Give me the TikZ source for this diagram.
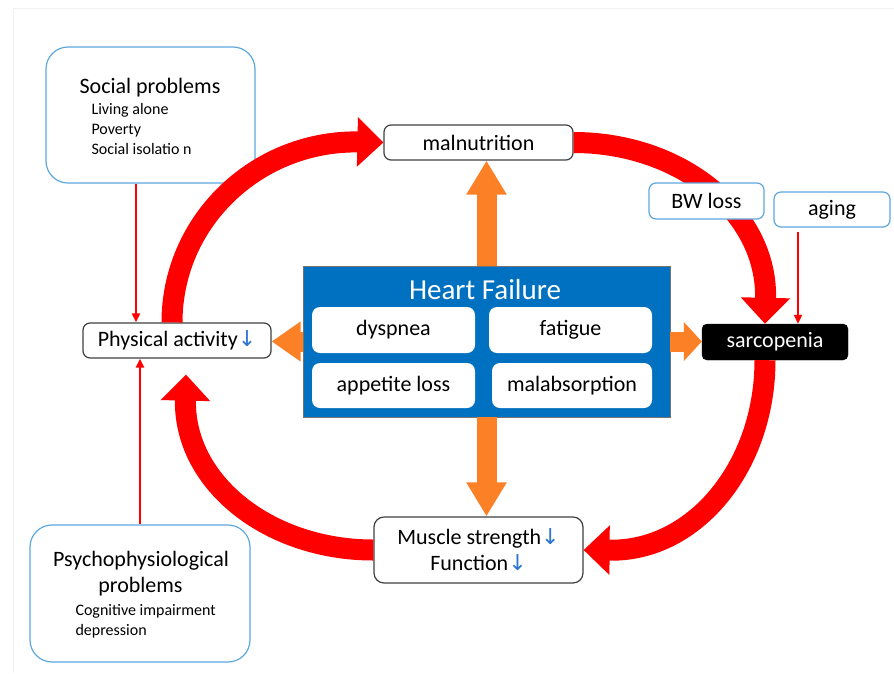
\documentclass[tikz,border=0pt]{standalone}
\usepackage{fontspec}
\setmainfont{Carlito}
\newfontfamily\arrowfont{DejaVu Sans}
\usetikzlibrary{arrows.meta,positioning}

\definecolor{hfred}{RGB}{255,0,0}
\definecolor{hforange}{RGB}{252,128,38}
\definecolor{hfblue}{RGB}{0,112,192}
\definecolor{softblue}{RGB}{93,168,222}
\definecolor{downblue}{RGB}{46,117,210}
\definecolor{darkframe}{RGB}{64,64,64}

\newcommand{\hfsize}{\fontsize{29}{34}\selectfont}
\newcommand{\boxsize}{\fontsize{22}{26}\selectfont}
\newcommand{\listsize}{\fontsize{16}{20}\selectfont}
\newcommand{\decrease}{{\arrowfont\color{downblue}↓}}

\begin{document}
\begin{tikzpicture}[x=1pt, y=1pt,
	softbox/.style={draw=softblue, line width=1.2pt, rounded corners=22pt, fill=white},
	tagbox/.style={draw=softblue, line width=1.2pt, rounded corners=7pt, fill=white, font=\boxsize},
	plainbox/.style={draw=darkframe, line width=1.2pt, rounded corners=7pt, fill=white, font=\boxsize},
	innerbox/.style={fill=white, rounded corners=8pt, font=\boxsize},
	bigarrow/.style={draw=hfred, line width=21pt, -{Triangle[length=26pt,width=48pt]}},
	thinarrow/.style={draw=hfred, line width=2pt, -{Triangle[length=9pt,width=8pt]}},
	orangearrow/.style={draw=hforange, line width=20pt, -{Triangle[length=34pt,width=38pt]}}]
	\useasboundingbox (0,0) rectangle (894,-673);
	\draw[black!5] (13,-673) -- (13,-8) -- (894,-8);
	
	% boxes round the loop
	\node[plainbox, minimum width=189pt, minimum height=35pt] (malnut) at (478.5,-142.5) {malnutrition};
	\node[plainbox, minimum width=188pt, minimum height=35pt] (physact) at (177,-340.5) {Physical activity\decrease};
	\node[plainbox, rounded corners=10pt, align=center, minimum width=209pt, minimum height=66pt] (muscle) at (478.5,-550) {Muscle strength\decrease\\Function\decrease};
	\node[draw=black, fill=black, text=white, rounded corners=5pt, font=\boxsize, minimum width=146pt, minimum height=36pt] (sarco) at (775,-342) {sarcopenia};
	\node[tagbox, minimum width=116pt, minimum height=35pt] (aging) at (832,-209.5) {aging};
	
	% heart failure
	\node[draw=black!55, fill=hfblue, minimum width=367pt, minimum height=151pt] (hf) at (486.5,-341.5) {};
	\node[font=\hfsize, text=white, anchor=base] (hftitle) at (485,-299) {Heart Failure};
	\node[innerbox, minimum width=163pt, minimum height=46pt] (dyspnea) at (393.5,-330) {dyspnea};
	\node[innerbox, minimum width=163pt, minimum height=46pt] (fatigue) at (570.5,-330) {fatigue};
	\node[innerbox, minimum width=163pt, minimum height=45pt] (appetite) at (393.5,-385.5) {appetite loss};
	\node[innerbox, minimum width=160pt, minimum height=45pt] (malabs) at (572,-385.5) {malabsorption};
	
	% social problems
	\node[softbox, minimum width=209pt, minimum height=136pt] (social) at (150.5,-115) {};
	\node[font=\boxsize, anchor=base] (socialtitle) at (150,-93) {Social problems};
	\foreach \entry [count=\i] in {Living alone, Poverty, Social isolatio n}
		\node[font=\listsize, anchor=base west] (social-\i) at (88,-94-20*\i) {\entry};
	
	% psychophysiological problems
	\node[softbox, minimum width=220pt, minimum height=137pt] (psycho) at (140,-593.5) {};
	\node[font=\boxsize, anchor=base] (psychotitle) at (141,-566) {Psychophysiological};
	\node[font=\boxsize, anchor=base] (psychotitle2) at (140.5,-592) {problems};
	\node[font=\listsize, anchor=base west] (psycho-1) at (72,-615) {Cognitive impairment};
	\node[font=\listsize, anchor=base west] (psycho-2) at (72,-635) {depression};
	
	% the vicious circle
	\draw[bigarrow] ([xshift=-5pt]physact.north) arc[start angle=180, end angle=90, x radius=184, y radius=180.5] -- (malnut.west);
	\draw[bigarrow] (malnut.east) arc[start angle=90, end angle=0, x radius=192, y radius=153.5] -- ([xshift=-10pt]sarco.north);
	\draw[bigarrow] ([xshift=-10pt]sarco.south) arc[start angle=0, end angle=-90, x radius=153.5, y radius=190] -- (muscle.east);
	\draw[bigarrow] (muscle.west) arc[start angle=-90, end angle=-180, x radius=188, y radius=148] -- ([xshift=9pt, yshift=-16pt]physact.south);
	
	\node[tagbox, minimum width=115pt, minimum height=36pt] (bwloss) at (706.5,-201) {BW loss};
	
	% thin arrows
	\draw[thinarrow] ([xshift=-14.5pt]social.south) -- ([xshift=-14.5pt]social.south |- physact.north);
	\draw[thinarrow] (psycho.north) -- (psycho.north |- physact.south);
	\draw[thinarrow] ([xshift=-34pt, yshift=-4pt]aging.south) -- ([xshift=-34pt]aging.south |- sarco.north);
	
	% orange arrows out of heart failure
	\draw[orangearrow] (hf.north) -- (hf.north |- malnut.south);
	\draw[orangearrow] (hf.south) -- (hf.south |- muscle.north);
	\draw[orangearrow, -{Triangle[length=29pt,width=38pt]}] (hf.west) -- (hf.west -| physact.east);
	\draw[orangearrow, -{Triangle[length=18pt,width=38pt]}] (hf.east) -- (hf.east -| sarco.west);
\end{tikzpicture}
\end{document}
